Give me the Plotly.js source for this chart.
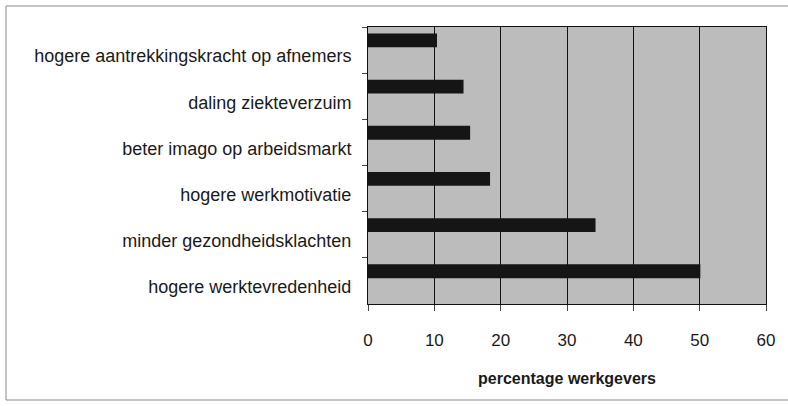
<!DOCTYPE html>
<html>
<head>
<meta charset="utf-8">
<script src="https://cdn.plot.ly/plotly-3.0.1.min.js"></script>
<style>html,body{margin:0;padding:0;background:#fff;}#chart{width:788px;height:406px;}</style>
</head>
<body>
<div id="chart"></div>
<script>
// Data (top to bottom, as in the reference)
var categories = [
  "hogere aantrekkingskracht op afnemers",
  "daling ziekteverzuim",
  "beter imago op arbeidsmarkt",
  "hogere werkmotivatie",
  "minder gezondheidsklachten",
  "hogere werktevredenheid"
];
var percentages = [10.4, 14.4, 15.4, 18.4, 34.3, 50.1];
var xTickValues = [0, 10, 20, 30, 40, 50, 60];
var xAxisTitle = "percentage werkgevers";

var W = 788, H = 406;
var M = {l: 368, r: 22, t: 27, b: 102};
var pw = W - M.l - M.r, ph = H - M.t - M.b;
function px(x) { return (x - M.l) / pw; }
function py(y) { return 1 - (y - M.t) / ph; }

var trace = {
  type: "bar",
  orientation: "h",
  x: percentages,
  y: categories,
  marker: {color: "#151515", line: {width: 0}},
  width: 0.30,
  offset: -0.36,
  hoverinfo: "x+y"
};

var frame = {color: "#8a8a8a", width: 1};
var layout = {
  width: W, height: H,
  margin: M,
  paper_bgcolor: "#ffffff",
  plot_bgcolor: "#bcbcbc",
  font: {family: "'Liberation Sans', Arial, sans-serif", color: "#1a1a1a"},
  showlegend: false,
  xaxis: {
    range: [0, 60],
    tickvals: xTickValues,
    ticktext: xTickValues.map(String),
    showgrid: true, gridcolor: "#111", gridwidth: 1,
    zeroline: false,
    showline: true, linecolor: "#111", linewidth: 1, mirror: true,
    ticks: "outside", ticklen: 6, tickcolor: "#444",
    tickfont: {size: 17, color: "#1a1a1a"},
    ticklabelstandoff: 15,
    title: {text: "<b>" + xAxisTitle + "</b>", font: {size: 16, color: "#1a1a1a"}, standoff: 23},
    fixedrange: true
  },
  yaxis: {
    type: "category",
    autorange: "reversed",
    showgrid: false,
    zeroline: false,
    showline: true, linecolor: "#111", linewidth: 1, mirror: true,
    ticks: "outside", ticklen: 5, tickcolor: "#444",
    tickson: "boundaries",
    tickfont: {size: 18, color: "#1a1a1a"},
    ticklabelstandoff: 12,
    ticklabelshift: -6,
    fixedrange: true
  },
  shapes: [
    {type: "line", xref: "paper", yref: "paper", x0: px(6), x1: px(6), y0: py(400), y1: py(6), line: frame, layer: "below"},
    {type: "line", xref: "paper", yref: "paper", x0: px(6), x1: px(788), y0: py(6), y1: py(6), line: frame, layer: "below"},
    {type: "line", xref: "paper", yref: "paper", x0: px(6), x1: px(788), y0: py(400), y1: py(400), line: frame, layer: "below"}
  ]
};

Plotly.newPlot("chart", [trace], layout, {displayModeBar: false, staticPlot: true});
</script>
</body>
</html>
